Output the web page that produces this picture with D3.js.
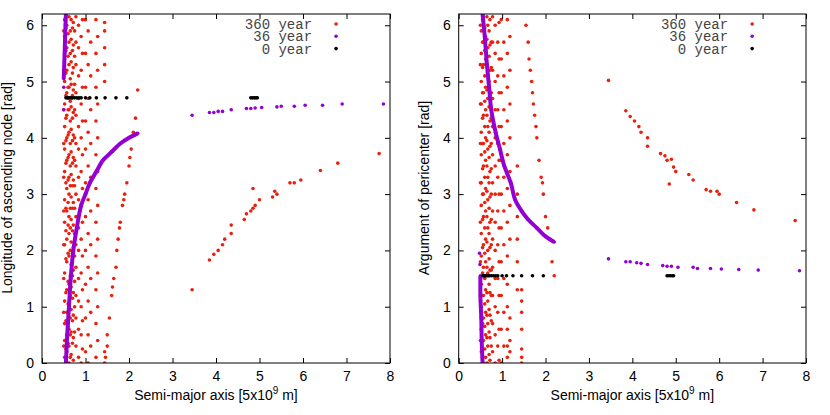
<!DOCTYPE html>
<html><head><meta charset="utf-8">
<script src="https://cdn.jsdelivr.net/npm/d3@7"></script>
<style>body{margin:0;background:#fff}</style>
</head><body>
<script>
// ---- data (x in 5e9 m, y in rad) ----
const xTicks = [0,1,2,3,4,5,6,7,8];
const yTicks = [0,1,2,3,4,5,6];
const legendLabels = ['360 year','36 year','0 year'];

// dense red columns near the star: [x, [y...]]
const redColsL = [
  [0.5,[0.3,0.9,1.5,2.1,2.7,3.3,3.9,4.5,5.2,5.9]],
  [0.52,[0.1,0.4,0.7,1.1,1.6,2.1,2.5,2.9,3.4,3.8,4.2,4.6,5.0,5.4,5.8,6.1]],
  [0.55,[0.25,0.75,1.25,1.85,2.35,2.75,3.2,3.55,3.95,4.35,4.75,5.15,5.55,5.95]],
  [0.57,[0.2,0.5,0.9,1.3,1.8,2.2,2.7,3.1,3.6,4.0,4.4,4.8,5.2,5.6,6.0]],
  [0.6,[0.35,0.65,1.05,1.45,1.95,2.45,2.85,3.25,3.65,4.05,4.5,4.9,5.45,5.85]],
  [0.62,[0.0,0.3,0.6,1.0,1.4,1.9,2.3,2.6,3.0,3.3,3.7,4.1,4.5,4.9,5.3,5.7,6.15]],
  [0.65,[0.1,0.5,0.8,1.2,1.55,2.0,2.4,2.75,3.15,3.5,3.9,4.3,4.65,5.05,5.5,5.9]],
  [0.67,[0.15,0.55,0.95,1.35,1.75,2.15,2.55,2.95,3.35,3.75,4.15,4.55,4.95,5.35,5.75,6.1]],
  [0.7,[0.35,0.75,1.15,1.55,1.95,2.35,2.75,3.15,3.55,3.95,4.35,4.75,5.15,5.55,5.95]],
  [0.72,[0.05,0.45,0.85,1.25,1.65,2.05,2.45,2.85,3.25,3.65,4.05,4.45,4.85,5.25,5.65,6.05]],
  [0.75,[0.55,1.0,1.45,1.9,2.3,2.75,3.15,3.6,4.0,4.5,4.95,5.45,5.9]],
  [0.78,[0.3,0.8,1.2,1.7,2.1,2.6,3.0,3.5,3.9,4.4,4.8,5.3,5.7,6.15]],
  [0.84,[0.1,0.6,1.1,1.5,2.0,2.4,2.9,3.3,3.8,4.2,4.7,5.1,5.6,6.0]],
  [0.9,[0.0,0.5,1.0,1.6,2.2,2.8,3.4,4.0,4.6,5.2,5.8]],
  [0.93,[0.25,0.75,1.3,1.9,2.5,3.1,3.7,4.3,4.9,5.5,6.1]],
  [1.0,[0.2,0.8,1.4,2.0,2.6,3.2,3.8,4.3,4.9,5.5,6.1]],
  [1.06,[0.0,0.5,1.1,1.7,2.3,2.9,3.5,4.1,4.7,5.3,5.9]],
  [1.12,[0.3,0.9,1.5,2.1,2.7,3.3,3.9,4.5,5.1,5.7]],
  [1.24,[0.1,0.7,1.3,1.9,2.5,3.1,3.7,4.3,4.9,5.5,6.1]],
  [1.28,[0.4,1.0,1.6,2.2,2.8,3.4,4.0,4.6,5.2,5.8]],
  [1.44,[0.0,0.2,5.0,5.3,5.6,5.9,6.05]]
];
const redCurveL = [[1.46,0.1],[1.5,0.3],[1.5,0.5],[1.55,0.8],[1.6,1.2],[1.62,1.35],[1.65,1.5],[1.7,1.7],[1.72,2.0],[1.75,2.2],[1.78,2.4],[1.8,2.5],[1.85,2.8],[1.88,2.9],[1.9,3.0],[1.95,3.2],[2.0,3.5],[2.02,3.65],[2.05,3.8],[2.1,4.1],[2.15,4.35],[2.2,4.85]];
const redFarL = [[3.45,1.3],[3.85,1.83],[3.95,1.93],[4.05,2.0],[4.15,2.1],[4.2,2.2],[4.35,2.3],[4.35,2.45],[4.65,2.55],[4.7,2.65],[4.8,2.7],[4.85,3.1],[4.85,2.75],[4.9,2.8],[5.0,2.9],[5.3,2.95],[5.35,3.05],[5.4,3.0],[5.7,3.2],[5.8,3.2],[5.95,3.25],[6.4,3.42],[6.8,3.55],[7.75,3.72]];
const purpleCurveL = [[0.55,0],[0.58,0.5],[0.62,1.0],[0.66,1.5],[0.72,2.0],[0.8,2.4],[0.9,2.8],[1.0,3.0],[1.1,3.2],[1.25,3.4],[1.4,3.6],[1.6,3.75],[1.8,3.9],[2.0,4.0],[2.2,4.08]];
const purpleUpL = [[0.5,5.05],[0.52,5.5],[0.54,6.0],[0.55,6.2]];
const purpleFarL = [[0.5,4.5],[0.5,4.9],[3.45,4.4],[3.85,4.45],[3.95,4.45],[4.05,4.47],[4.15,4.47],[4.35,4.5],[4.7,4.52],[4.8,4.52],[4.9,4.53],[5.05,4.54],[5.4,4.55],[5.5,4.56],[5.8,4.56],[6.05,4.58],[6.45,4.58],[6.9,4.6],[7.85,4.6]];
const blackX = [0.55,0.58,0.6,0.62,0.65,0.68,0.7,0.75,0.8,0.85,0.9,1.0,1.1,1.25,1.45,1.7,1.95,4.8,4.84,4.88,4.92,4.95];
const blackYL = 4.71;

const redColsR = [
  [0.5,[0.4,1.1,1.8,2.5,3.2,3.9,4.6,5.3,6.0]],
  [0.52,[0.2,0.6,1.0,1.4,1.9,2.3,2.8,3.2,3.7,4.1,4.6,5.0,5.5,5.9]],
  [0.55,[0.1,0.7,1.2,1.6,2.05,2.55,3.0,3.45,3.9,4.35,4.8,5.25,5.7,6.1]],
  [0.57,[0.0,0.4,0.8,1.2,1.7,2.1,2.6,3.0,3.5,3.9,4.4,4.8,5.3,5.7,6.15]],
  [0.6,[0.25,0.65,1.05,1.5,1.95,2.4,2.85,3.3,3.75,4.2,4.65,5.1,5.55,5.95]],
  [0.62,[0.1,0.5,0.9,1.3,1.8,2.2,2.7,3.1,3.6,4.0,4.5,4.9,5.4,5.8]],
  [0.65,[0.0,0.45,0.85,1.25,1.7,2.15,2.6,3.05,3.5,3.95,4.4,4.85,5.3,5.75,6.15]],
  [0.67,[0.3,0.7,1.1,1.6,2.0,2.4,2.9,3.3,3.8,4.2,4.7,5.1,5.6,6.0]],
  [0.7,[0.15,0.55,0.95,1.4,1.85,2.3,2.75,3.2,3.65,4.1,4.55,5.0,5.45,5.9]],
  [0.72,[0.05,0.45,0.85,1.25,1.65,2.05,2.5,2.95,3.4,3.85,4.3,4.75,5.2,5.65,6.1]],
  [0.75,[0.3,0.75,1.2,1.65,2.1,2.55,3.0,3.45,3.9,4.35,4.8,5.25,5.7]],
  [0.78,[0.2,0.7,1.2,1.7,2.2,2.7,3.2,3.7,4.2,4.7,5.2,5.7,6.15]],
  [0.84,[0.0,0.5,1.0,1.5,2.0,2.5,3.0,3.5,4.0,4.5,5.0,5.5,6.0]],
  [0.9,[0.3,0.9,1.5,2.1,2.7,3.3,3.9,4.5,5.1,5.7]],
  [0.93,[0.05,0.6,1.2,1.8,2.4,3.0,3.6,4.2,4.8,5.4,6.05]],
  [0.98,[0.0,0.6,1.2,1.8,2.4,3.0,3.6,4.2,4.8,5.4,6.1]],
  [1.04,[0.3,0.9,1.5,2.1,2.7,3.3,3.9,4.5,5.1,5.7]],
  [1.12,[0.1,0.3,0.6,1.0,1.4,1.9,2.5,3.1,3.7,4.3,4.9,5.5,6.1]],
  [1.18,[0.2,0.4,0.8,2.2,2.8,3.4,4.0,4.6,5.2,5.8]],
  [1.35,[1.3,1.8,2.2,2.6,3.0,3.5]],
  [1.45,[0.0,0.1,0.25,0.6,0.9,1.1,1.3]]
];
const redCurveR = [[1.55,6.0],[1.6,5.7],[1.62,5.4],[1.65,5.2],[1.68,5.0],[1.7,4.8],[1.72,4.6],[1.75,4.4],[1.78,4.2],[1.8,4.0],[1.85,3.6],[1.9,3.3],[1.93,3.2],[1.95,3.0],[2.0,2.6],[2.05,2.4],[2.1,2.2],[2.15,1.8],[2.2,1.55]];
const redFarR = [[3.45,5.02],[3.85,4.48],[3.95,4.38],[4.05,4.3],[4.15,4.2],[4.2,4.1],[4.35,4.0],[4.35,3.85],[4.65,3.72],[4.75,3.68],[4.8,3.6],[4.85,3.18],[4.9,3.62],[4.95,3.48],[5.0,3.4],[5.3,3.35],[5.4,3.25],[5.7,3.08],[5.8,3.05],[5.95,3.05],[6.0,3.0],[6.4,2.85],[6.8,2.72],[7.75,2.53]];
const purpleCurveR = [[0.55,6.2],[0.6,5.8],[0.65,5.3],[0.7,4.9],[0.75,4.5],[0.85,4.1],[0.95,3.8],[1.05,3.5],[1.2,3.2],[1.3,2.9],[1.45,2.7],[1.6,2.55],[1.8,2.4],[2.0,2.25],[2.2,2.15]];
const purpleLowR = [[0.55,0],[0.53,0.4],[0.52,0.8],[0.5,1.2],[0.5,1.55]];
const purpleFarR = [[0.48,1.95],[0.49,1.75],[3.45,1.85],[3.85,1.8],[3.95,1.8],[4.1,1.78],[4.2,1.77],[4.35,1.75],[4.7,1.73],[4.8,1.72],[4.9,1.72],[5.05,1.7],[5.4,1.7],[5.5,1.68],[5.8,1.68],[6.05,1.67],[6.45,1.66],[6.9,1.65],[7.85,1.64]];
const blackYR = 1.55;

const RED = '#e8200e', PURPLE = '#9400d3', BLACK = '#000';

const svg = d3.select('body').append('svg').attr('width',830).attr('height',415);

function panel(x0, x1, ylab, redCols, redCurve, redFar, pCurve, pPart, pFar, blackY){
  const x = d3.scaleLinear().domain([0,8]).range([x0,x1]);
  const y = d3.scaleLinear().domain([0,6.2]).range([363,14]);
  const g = svg.append('g');
  const cid = 'c'+Math.round(x0);
  g.append('clipPath').attr('id',cid).append('rect')
    .attr('x',x0).attr('y',14).attr('width',x1-x0).attr('height',349);
  const pg = g.append('g').attr('clip-path','url(#'+cid+')');

  const dots = (pts,col,r)=>pg.append('g').selectAll('circle').data(pts).join('circle')
    .attr('cx',d=>x(d[0])).attr('cy',d=>y(d[1])).attr('r',r).attr('fill',col);

  const reds = redCols.flatMap(([cx,ys])=>ys.map(v=>[cx,v])).concat(redCurve, redFar);
  dots(reds, RED, 1.8);
  const line = d3.line().x(d=>x(d[0])).y(d=>y(d[1])).curve(d3.curveCatmullRom);
  [pCurve,pPart].forEach(c=>pg.append('path').datum(c).attr('d',line)
    .attr('fill','none').attr('stroke',PURPLE).attr('stroke-width',4));
  dots(pCurve.concat(pPart,pFar), PURPLE, 1.8);
  dots(blackX.map(v=>[v,blackY]), BLACK, 1.8);

  // frame and mirrored inward ticks
  g.append('rect').attr('x',x0).attr('y',14).attr('width',x1-x0).attr('height',349)
    .attr('fill','none').attr('stroke','#000');
  const font = 'Liberation Sans, Arial, sans-serif';
  const fmt = d3.format('d');
  g.append('g').attr('transform','translate(0,363)').call(d3.axisBottom(x).tickValues(xTicks).tickFormat(fmt).tickSizeInner(-5).tickSizeOuter(0).tickPadding(8))
    .call(a=>{a.select('.domain').remove();a.selectAll('text').attr('font-size',14).attr('font-family',font);});
  g.append('g').attr('transform','translate(0,14)').call(d3.axisTop(x).tickValues(xTicks).tickSizeInner(-5).tickSizeOuter(0).tickFormat(''))
    .call(a=>a.select('.domain').remove());
  g.append('g').attr('transform',`translate(${x0},0)`).call(d3.axisLeft(y).tickValues(yTicks).tickFormat(fmt).tickSizeInner(-5).tickSizeOuter(0).tickPadding(8))
    .call(a=>{a.select('.domain').remove();a.selectAll('text').attr('font-size',14).attr('font-family',font);});
  g.append('g').attr('transform',`translate(${x1},0)`).call(d3.axisRight(y).tickValues(yTicks).tickSizeInner(-5).tickSizeOuter(0).tickFormat(''))
    .call(a=>a.select('.domain').remove());

  const xl = g.append('text').attr('x',(x0+x1)/2).attr('y',400).attr('text-anchor','middle')
    .attr('font-size',14).attr('font-family',font);
  xl.append('tspan').text('Semi-major axis [5x10');
  xl.append('tspan').attr('dy',-6).attr('font-size',10).text('9');
  xl.append('tspan').attr('dy',6).text(' m]');
  g.append('text').attr('transform',`translate(${x0-30},${188}) rotate(-90)`).attr('text-anchor','middle')
    .attr('font-size',14).attr('font-family',font).text(ylab);

  // legend
  const lx = x0 + (x1-x0)*0.845;
  [RED,PURPLE,BLACK].forEach((c,i)=>{
    g.append('text').attr('x',lx-24).attr('y',29+i*12.3).attr('text-anchor','end')
      .attr('font-size',14).attr('font-family','Liberation Mono, DejaVu Sans Mono, monospace')
      .attr('fill','#444').text(legendLabels[i]);
    g.append('circle').attr('cx',lx).attr('cy',24+i*12.3).attr('r',1.8).attr('fill',c);
  });
}

panel(42, 390, 'Longitude of ascending node [rad]', redColsL, redCurveL, redFarL, purpleCurveL, purpleUpL, purpleFarL, blackYL);
panel(458.7, 806, 'Argument of pericenter [rad]', redColsR, redCurveR, redFarR, purpleCurveR, purpleLowR, purpleFarR, blackYR);
</script>
</body></html>
